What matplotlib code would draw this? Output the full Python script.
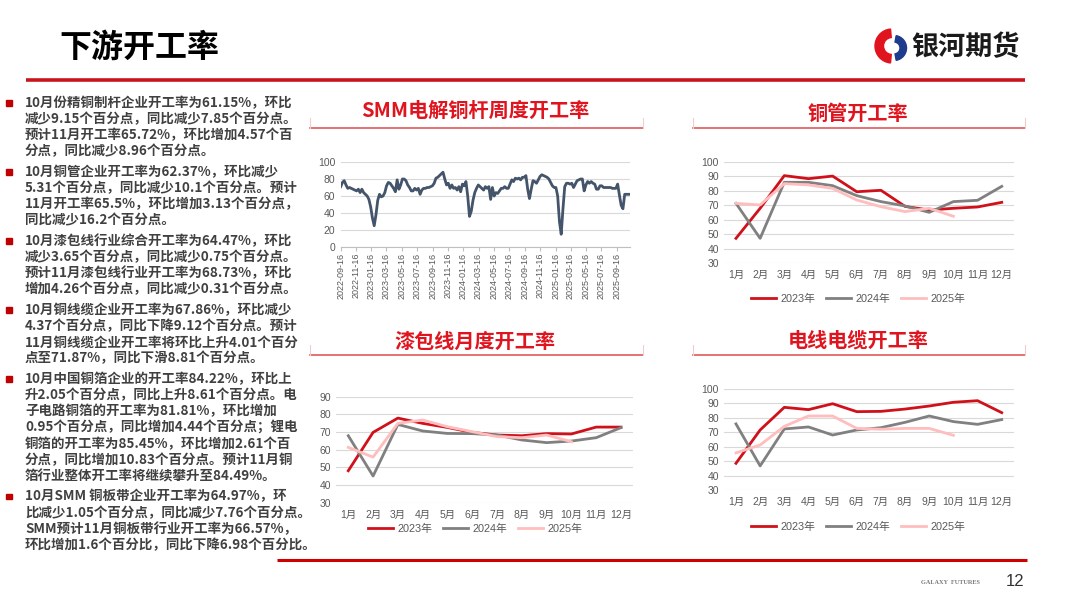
import numpy as np
import pandas as pd
import matplotlib
matplotlib.use('Agg')
import matplotlib.pyplot as plt
import matplotlib.dates as mdates
from matplotlib.patches import Rectangle, Wedge
from datetime import datetime

plt.rcParams['font.family'] = ['Liberation Sans', 'Noto Sans CJK SC']

# ---- data ----
week_start = '2022-09-16'
rod_weekly = [71, 76, 78, 73, 69, 70, 69, 68, 67, 66, 68, 64, 68, 64, 62, 60, 56, 47, 34, 25,
              38, 55, 62, 59, 60, 64, 72, 76, 75, 72, 69, 65, 79, 68, 73, 80, 80, 78, 73, 70,
              66, 66, 69, 67, 69, 62, 67, 69, 69, 70, 70, 71, 72, 75, 81, 82, 84, 86, 88, 80,
              73, 75, 69, 73, 69, 70, 67, 71, 65, 74, 72, 77, 60, 36, 42, 55, 64, 69, 73, 71,
              69, 67, 71, 69, 71, 56, 70, 60, 64, 63, 66, 69, 69, 71, 69, 69, 74, 79, 77, 81,
              80, 81, 79, 82, 82, 84, 68, 57, 68, 78, 77, 75, 79, 83, 85, 84, 83, 82, 80, 76,
              72, 70, 70, 60, 30, 15, 45, 71, 75, 75, 74, 75, 70, 74, 78, 79, 80, 80, 66, 73,
              77, 75, 77, 75, 74, 68, 68, 72, 72, 70, 70, 70, 70, 70, 69, 69, 69, 74, 61, 49,
              45, 62, 62, 62, 62]

months = ['1月', '2月', '3月', '4月', '5月', '6月', '7月', '8月', '9月', '10月', '11月', '12月']
years = ['2023年', '2024年', '2025年']

tube_2023 = [47.2, 67.9, 90.4, 88.3, 90.1, 79.3, 80.3, 69.2, 66.7, 67.9, 68.8, 72.0]
tube_2024 = [71.3, 47.2, 85.8, 85.8, 83.5, 76.6, 72.5, 69.5, 65.1, 72.5, 73.4, 83.0]
tube_2025 = [71.3, 70.2, 84.9, 84.0, 81.6, 73.6, 69.0, 65.6, 67.9, 62.4]

enam_2023 = [48.1, 69.8, 77.9, 74.9, 72.6, 69.8, 68.3, 67.9, 69.1, 68.9, 72.8, 72.8]
enam_2024 = [67.9, 45.1, 74.3, 70.6, 69.2, 69.1, 68.3, 65.5, 64.0, 64.9, 66.8, 72.5]
enam_2025 = [61.3, 55.8, 74.9, 76.8, 73.0, 70.2, 67.4, 66.8, 68.3, 64.5]

cable_2023 = [48.5, 71.6, 87.3, 85.7, 89.8, 84.3, 84.5, 86.1, 88.2, 90.8, 91.9, 83.6]
cable_2024 = [75.8, 46.7, 72.3, 73.7, 68.1, 71.6, 73.2, 76.9, 81.3, 77.4, 75.5, 78.8]
cable_2025 = [55.7, 61.2, 74.1, 81.3, 81.3, 72.7, 72.1, 72.7, 72.7, 67.9]

bullets = [
    ["10月份精铜制杆企业开工率为61.15%，环比",
     "减少9.15个百分点，同比减少7.85个百分点。",
     "预计11月开工率65.72%，环比增加4.57个百",
     "分点，同比减少8.96个百分点。"],
    ["10月铜管企业开工率为62.37%，环比减少",
     "5.31个百分点，同比减少10.1个百分点。预计",
     "11月开工率65.5%，环比增加3.13个百分点，",
     "同比减少16.2个百分点。"],
    ["10月漆包线行业综合开工率为64.47%，环比",
     "减少3.65个百分点，同比减少0.75个百分点。",
     "预计11月漆包线行业开工率为68.73%，环比",
     "增加4.26个百分点，同比减少0.31个百分点。"],
    ["10月铜线缆企业开工率为67.86%，环比减少",
     "4.37个百分点，同比下降9.12个百分点。预计",
     "11月铜线缆企业开工率将环比上升4.01个百分",
     "点至71.87%，同比下滑8.81个百分点。"],
    ["10月中国铜箔企业的开工率84.22%，环比上",
     "升2.05个百分点，同比上升8.61个百分点。电",
     "子电路铜箔的开工率为81.81%，环比增加",
     "0.95个百分点，同比增加4.44个百分点；锂电",
     "铜箔的开工率为85.45%，环比增加2.61个百",
     "分点，同比增加10.83个百分点。预计11月铜",
     "箔行业整体开工率将继续攀升至84.49%。"],
    ["10月SMM 铜板带企业开工率为64.97%，环",
     "比减少1.05个百分点，同比减少7.76个百分点。",
     "SMM预计11月铜板带行业开工率为66.57%，",
     "环比增加1.6个百分比，同比下降6.98个百分比。"],
]

RED = '#D0101A'
GRAY = '#808080'
PINK = '#FFBDBD'
TXT = '#595959'

fig = plt.figure(figsize=(10.8, 6.08), dpi=100)

# overlay for page decoration, pixel coordinates
bg = fig.add_axes([0, 0, 1, 1], zorder=0)
bg.set_xlim(0, 1080)
bg.set_ylim(608, 0)
bg.axis('off')

bg.text(59, 48, '下游开工率', fontsize=23, fontweight='bold', va='center', ha='left',
        family=['Noto Sans CJK SC'], color='black')
bg.plot([26, 1025], [80, 80], color='#C8161D', lw=2.6, solid_capstyle='butt')

# logo
bg.add_patch(Wedge((892, 46), 17, 95, 265, width=8.5, color='#E0141E'))
bg.add_patch(Wedge((894, 48), 12.5, -80, 80, width=6.5, color='#1E3C8C'))
bg.text(911, 47, '银河期货', fontsize=19.5, fontweight='bold', va='center', ha='left',
        family=['Noto Sans CJK SC'], color='#1a1a1a')

# footer
bg.plot([277, 1027], [560, 560], color='#D00000', lw=2.2, solid_capstyle='butt')
bg.text(950, 583, 'GALAXY  FUTURES', fontsize=4.5, fontweight='bold', ha='center', va='center',
        family=['Liberation Serif'], color='#777777')
bg.text(1015, 582, '12', fontsize=12, ha='center', va='center', color='#333333')

# left text block
y = 103
for para in bullets:
    bg.add_patch(Rectangle((6, y - 2.8), 5.5, 5.5, color='#C00000'))
    for line in para:
        bg.text(25, y, line, fontsize=9.7, fontweight='bold', va='center', ha='left',
                family=['Noto Sans CJK SC'], color='#404040')
        y += 16.2
    y += 20.4 - 16.2

# chart titles
def chart_title(text, cx, cy, x0, x1, yl):
    bg.text(cx, cy, text, fontsize=14.5, fontweight='bold', color='#E0141E', ha='center',
            va='center', family=['Noto Sans CJK SC'])
    bg.plot([x0, x1], [yl, yl], color='#E05A5A', lw=1.2)
    for xe in (x0, x1):
        bg.plot([xe, xe], [yl - 10, yl], color='#F5CCCC', lw=0.8)

chart_title('SMM电解铜杆周度开工率', 475, 110, 310, 643, 127.5)
chart_title('铜管开工率', 858, 113, 693, 1025, 127.5)
chart_title('漆包线月度开工率', 475, 341, 310, 643, 355)
chart_title('电线电缆开工率', 858, 340, 693, 1025, 355)

# weekly chart
ax = fig.add_axes([340.7 / 1080, 1 - 247 / 608, (630 - 340.7) / 1080, 85 / 608], zorder=2)
ax.set_facecolor('none')
dates = pd.date_range(week_start, periods=len(rod_weekly), freq='7D')
ax.plot(dates, rod_weekly, color='#44546A', lw=2)
ax.set_xlim(dates[0], dates[-1])
ax.set_ylim(0, 100)
ax.set_yticks(range(0, 101, 20))
ticks = []
yy, mm = 2022, 9
while datetime(yy, mm, 16) <= datetime(2025, 9, 16):
    ticks.append(datetime(yy, mm, 16))
    mm += 2
    if mm > 12:
        mm -= 12
        yy += 1
ax.set_xticks(ticks)
ax.xaxis.set_major_formatter(mdates.DateFormatter('%Y-%m-%d'))
ax.tick_params(axis='x', rotation=90, labelsize=6.5, colors=TXT, length=3, color='#BFBFBF', pad=1)
ax.tick_params(axis='y', labelsize=7.5, colors=TXT, length=0, pad=4)
ax.grid(axis='y', color='#D9D9D9', lw=0.8)
for s in ('top', 'right', 'left'):
    ax.spines[s].set_visible(False)
ax.spines['bottom'].set_color('#BFBFBF')
ax.set_axisbelow(True)


def monthly(rect, s23, s24, s25, ylim, legend_y, legend_x):
    a = fig.add_axes(rect, zorder=2)
    a.set_facecolor('none')
    x = np.arange(1, 13)
    a.plot(x, s23, color=RED, lw=2, label=years[0])
    a.plot(x, s24, color=GRAY, lw=2, label=years[1])
    a.plot(x[:len(s25)], s25, color=PINK, lw=2, label=years[2])
    a.set_xlim(0.5, 12.5)
    a.set_ylim(*ylim)
    a.set_yticks(range(ylim[0], ylim[1] + 1, 10))
    a.set_xticks(x)
    a.set_xticklabels(months)
    a.tick_params(labelsize=7.5, colors=TXT, length=0)
    a.tick_params(axis='x', pad=5)
    a.grid(axis='y', color='#D9D9D9', lw=0.8)
    a.set_axisbelow(True)
    for s in a.spines.values():
        s.set_visible(False)
    a.legend(loc='center', bbox_to_anchor=(legend_x / 1080, 1 - legend_y / 608),
             bbox_transform=fig.transFigure, ncol=3, frameon=False, fontsize=7.8,
             handlelength=2.3, columnspacing=1.0, handletextpad=0.4, labelcolor=TXT)
    return a


monthly([723.9 / 1080, 1 - 263.3 / 608, 289.9 / 1080, 101.6 / 608],
        tube_2023, tube_2024, tube_2025, (30, 100), 299, 858)
monthly([335.9 / 1080, 1 - 502.7 / 608, 297.5 / 1080, 106 / 608],
        enam_2023, enam_2024, enam_2025, (30, 90), 529, 475)
monthly([723.9 / 1080, 1 - 490 / 608, 289.9 / 1080, 101 / 608],
        cable_2023, cable_2024, cable_2025, (30, 100), 526.7, 858)

fig.savefig('out.png', dpi=100)
